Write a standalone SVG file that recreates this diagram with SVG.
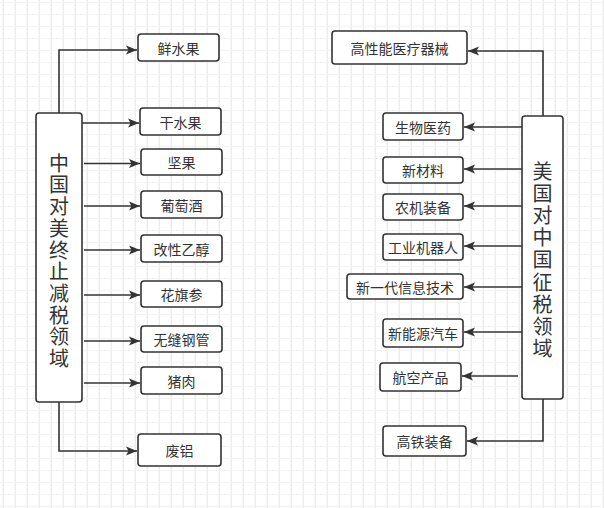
<svg xmlns="http://www.w3.org/2000/svg" width="604" height="508" viewBox="0 0 604 508">
<defs>
<pattern id="grid" x="2.7" y="2" width="12" height="12" patternUnits="userSpaceOnUse">
<path d="M0.5 0V12" stroke="#e4e4e4" stroke-width="1" fill="none"/>
<path d="M0 0.5H12" stroke="#f3f3f3" stroke-width="1" fill="none"/>
</pattern>
<marker id="ah" markerWidth="12" markerHeight="10" refX="11" refY="5" orient="auto" markerUnits="userSpaceOnUse">
<path d="M0 0.5 L11 5 L0 9.5 L2.5 5 Z" fill="#333"/>
</marker>
</defs>
<style>
.box{fill:#fff;stroke:#333;stroke-width:1.6}
.lbl{font-family:"Noto Sans CJK SC","Liberation Sans",sans-serif;font-size:14px;fill:#333;text-anchor:middle;dominant-baseline:central}
.big{font-family:"Noto Sans CJK SC","Liberation Sans",sans-serif;font-size:20px;fill:#333;text-anchor:middle;dominant-baseline:central}
.con path{fill:none;stroke:#333;stroke-width:1.6;marker-end:url(#ah)}
</style>
<rect width="604" height="508" fill="#fff"/>
<rect width="604" height="508" fill="url(#grid)"/>
<g class="con" id="connectors">
<path d="M59 113V50H137"/>
<path d="M82 123H139"/>
<path d="M84 163.5H140"/>
<path d="M84 206H140"/>
<path d="M84 250H140"/>
<path d="M84 295H140"/>
<path d="M84 341H140"/>
<path d="M84 383H140"/>
<path d="M59 402V451H137"/>
<path d="M543 116V51H468"/>
<path d="M522 127H464"/>
<path d="M522 169H464"/>
<path d="M522 206H464"/>
<path d="M522 246H464"/>
<path d="M522 287H464"/>
<path d="M522 332H464"/>
<path d="M518 376H462"/>
<path d="M543 399V441H467"/>
</g>
<g id="china">
<rect class="box" x="36" y="113" width="46" height="289" rx="3"/>
<text class="big" x="59"><tspan x="59" y="161.7">中</tspan><tspan x="59" y="183.4">国</tspan><tspan x="59" y="205.1">对</tspan><tspan x="59" y="226.8">美</tspan><tspan x="59" y="248.5">终</tspan><tspan x="59" y="270.2">止</tspan><tspan x="59" y="291.9">减</tspan><tspan x="59" y="313.6">税</tspan><tspan x="59" y="335.3">领</tspan><tspan x="59" y="357">域</tspan></text>
</g>
<g id="usa">
<rect class="box" x="522" y="116" width="41" height="283" rx="3"/>
<text class="big" x="542.5"><tspan x="542.5" y="170">美</tspan><tspan x="542.5" y="192.1">国</tspan><tspan x="542.5" y="214.2">对</tspan><tspan x="542.5" y="236.3">中</tspan><tspan x="542.5" y="258.4">国</tspan><tspan x="542.5" y="280.5">征</tspan><tspan x="542.5" y="302.6">税</tspan><tspan x="542.5" y="324.7">领</tspan><tspan x="542.5" y="346.8">域</tspan></text>
</g>
<g id="n-xianshuiguo"><rect class="box" x="138" y="34" width="81" height="27" rx="3"/><text class="lbl" x="178.5" y="47.5">鲜水果</text></g>
<g id="n-ganshuiguo"><rect class="box" x="140" y="108" width="81" height="27" rx="3"/><text class="lbl" x="180.5" y="121.5">干水果</text></g>
<g id="n-jianguo"><rect class="box" x="141" y="149" width="81" height="26" rx="3"/><text class="lbl" x="181.5" y="162">坚果</text></g>
<g id="n-putaojiu"><rect class="box" x="141" y="191" width="81" height="27" rx="3"/><text class="lbl" x="181.5" y="204.5">葡萄酒</text></g>
<g id="n-gaixing"><rect class="box" x="141" y="235" width="81" height="27" rx="3"/><text class="lbl" x="181.5" y="248.5">改性乙醇</text></g>
<g id="n-huaqishen"><rect class="box" x="141" y="281" width="81" height="26" rx="3"/><text class="lbl" x="181.5" y="294">花旗参</text></g>
<g id="n-wufeng"><rect class="box" x="141" y="326" width="81" height="26" rx="3"/><text class="lbl" x="181.5" y="339">无缝钢管</text></g>
<g id="n-zhurou"><rect class="box" x="141" y="367" width="81" height="27" rx="3"/><text class="lbl" x="181.5" y="380.5">猪肉</text></g>
<g id="n-feilv"><rect class="box" x="138" y="434" width="83" height="32" rx="3"/><text class="lbl" x="179.5" y="450">废铝</text></g>
<g id="n-yiliao"><rect class="box" x="332" y="31" width="135" height="33" rx="3"/><text class="lbl" x="399.5" y="47.5">高性能医疗器械</text></g>
<g id="n-shengwu"><rect class="box" x="383" y="113" width="80" height="27" rx="3"/><text class="lbl" x="423" y="126.5">生物医药</text></g>
<g id="n-xincailiao"><rect class="box" x="383" y="157" width="80" height="26" rx="3"/><text class="lbl" x="423" y="170">新材料</text></g>
<g id="n-nongji"><rect class="box" x="383" y="194" width="80" height="26" rx="3"/><text class="lbl" x="423" y="207">农机装备</text></g>
<g id="n-jiqiren"><rect class="box" x="383" y="234" width="80" height="26" rx="3"/><text class="lbl" x="423" y="247">工业机器人</text></g>
<g id="n-xinxi"><rect class="box" x="347" y="274" width="116" height="25" rx="3"/><text class="lbl" x="405" y="286.5">新一代信息技术</text></g>
<g id="n-qiche"><rect class="box" x="383" y="319" width="80" height="28" rx="3"/><text class="lbl" x="423" y="333">新能源汽车</text></g>
<g id="n-hangkong"><rect class="box" x="380" y="363" width="81" height="28" rx="3"/><text class="lbl" x="420.5" y="377">航空产品</text></g>
<g id="n-gaotie"><rect class="box" x="383" y="426" width="83" height="30" rx="3"/><text class="lbl" x="424.5" y="441">高铁装备</text></g>
</svg>
